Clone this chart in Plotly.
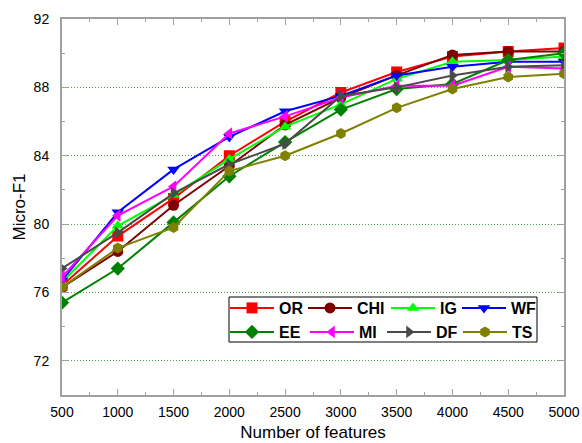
import plotly.graph_objects as go

features = [500, 1000, 1500, 2000, 2500, 3000, 3500, 4000, 4500, 5000]

OR  = [76.4, 79.3, 81.5, 84.0, 86.0, 87.7, 88.9, 89.8, 90.1, 90.3]
CHI = [76.3, 78.4, 81.1, 83.4, 85.8, 87.4, 88.7, 89.9, 90.1, 90.1]
IG  = [76.6, 79.9, 81.7, 83.8, 85.7, 87.0, 88.5, 89.5, 89.6, 89.8]
WF  = [76.7, 80.7, 83.2, 85.1, 86.6, 87.5, 88.7, 89.2, 89.5, 89.5]
EE  = [75.4, 77.4, 80.1, 82.8, 84.8, 86.7, 87.9, 88.2, 89.6, 90.0]
MI  = [76.9, 80.5, 82.2, 85.3, 86.3, 87.4, 88.1, 88.1, 89.2, 89.1]
DF  = [77.4, 79.5, 81.8, 83.5, 84.7, 87.5, 88.0, 88.7, 89.2, 89.3]
TS  = [76.3, 78.6, 79.8, 83.1, 84.0, 85.3, 86.8, 87.9, 88.6, 88.8]

names   = ["OR", "CHI", "IG", "WF", "EE", "MI", "DF", "TS"]
series  = [OR, CHI, IG, WF, EE, MI, DF, TS]
colors  = ["#ff0000", "#800000", "#00ff00", "#0000ff", "#008000", "#ff00ff", "#4a4a4a", "#808000"]
symbols = ["square", "circle", "triangle-up", "triangle-down", "diamond",
           "triangle-left", "triangle-right", "hexagon"]

y_ticks = [72, 76, 80, 84, 88, 92]

FONT = "Liberation Sans, Arial"
W, H = 582, 443
ML, MR, MT, MB = 62, 18, 19, 48
PW, PH = W - ML - MR, H - MT - MB


def px_x(p):
    return (p - ML) / PW


def px_y(p):
    return (H - MB - p) / PH


# legend layout (pixel positions of each entry: left edge, row centre)
leg_left = [225, 303, 386, 457, 225, 305, 382, 458]
leg_row = [308, 308, 308, 308, 332, 332, 332, 332]

fig = go.Figure()
for i, (n, s, c, m) in enumerate(zip(names, series, colors, symbols)):
    lid = "legend" if i == 0 else f"legend{i + 1}"
    fig.add_trace(go.Scatter(
        x=features, y=s, name=n, mode="lines+markers",
        line=dict(color=c, width=2),
        marker=dict(symbol=m, color=c, size=11),
        legend=lid, showlegend=True,
    ))

axis_common = dict(
    showline=True, linecolor="#a0a0a0", linewidth=2, mirror="ticks",
    ticks="inside", ticklen=6, tickcolor="#a0a0a0", tickwidth=1,
    tickfont=dict(family=FONT, size=14, color="black"),
    zeroline=False, automargin=False,
)

fig.update_xaxes(
    range=[500, 5000], tickvals=features, showgrid=False, ticklabelstandoff=3,
    minor=dict(dtick=250, ticks="inside", ticklen=3, tickcolor="#a0a0a0", showgrid=False),
    title=dict(text="Number of features", font=dict(family=FONT, size=17, color="black"), standoff=7),
    **axis_common,
)
fig.update_yaxes(
    range=[70, 92], tickvals=y_ticks, ticklabelstandoff=8,
    showgrid=True, gridcolor="#4aa84a", griddash="1px,2px", gridwidth=1,
    minor=dict(dtick=2, tick0=70, ticks="inside", ticklen=3, tickcolor="#a0a0a0", showgrid=False),
    title=dict(text="Micro-F1", font=dict(family=FONT, size=17, color="black"), standoff=4),
    **axis_common,
)

layout_legends = {}
for i in range(len(names)):
    key = "legend" if i == 0 else f"legend{i + 1}"
    layout_legends[key] = dict(
        x=px_x(leg_left[i]), y=px_y(leg_row[i]), xanchor="left", yanchor="middle",
        bgcolor="rgba(0,0,0,0)", borderwidth=0, itemwidth=44,
        orientation="v", visible=True,
        font=dict(family=FONT, size=16, color="black", weight="bold"),
    )

fig.update_layout(
    width=W, height=H,
    margin=dict(l=ML, r=MR, t=MT, b=MB),
    plot_bgcolor="white", paper_bgcolor="white",
    font=dict(family=FONT, color="black"),
    showlegend=True,
    **layout_legends,
    shapes=[dict(
        type="rect", xref="paper", yref="paper", layer="above",
        x0=px_x(229), x1=px_x(537), y0=px_y(342), y1=px_y(297),
        line=dict(color="black", width=1), fillcolor="rgba(0,0,0,0)",
    )],
)

fig.write_html("out.html", config={"displayModeBar": False},
               post_script="document.body.style.margin='0';")
